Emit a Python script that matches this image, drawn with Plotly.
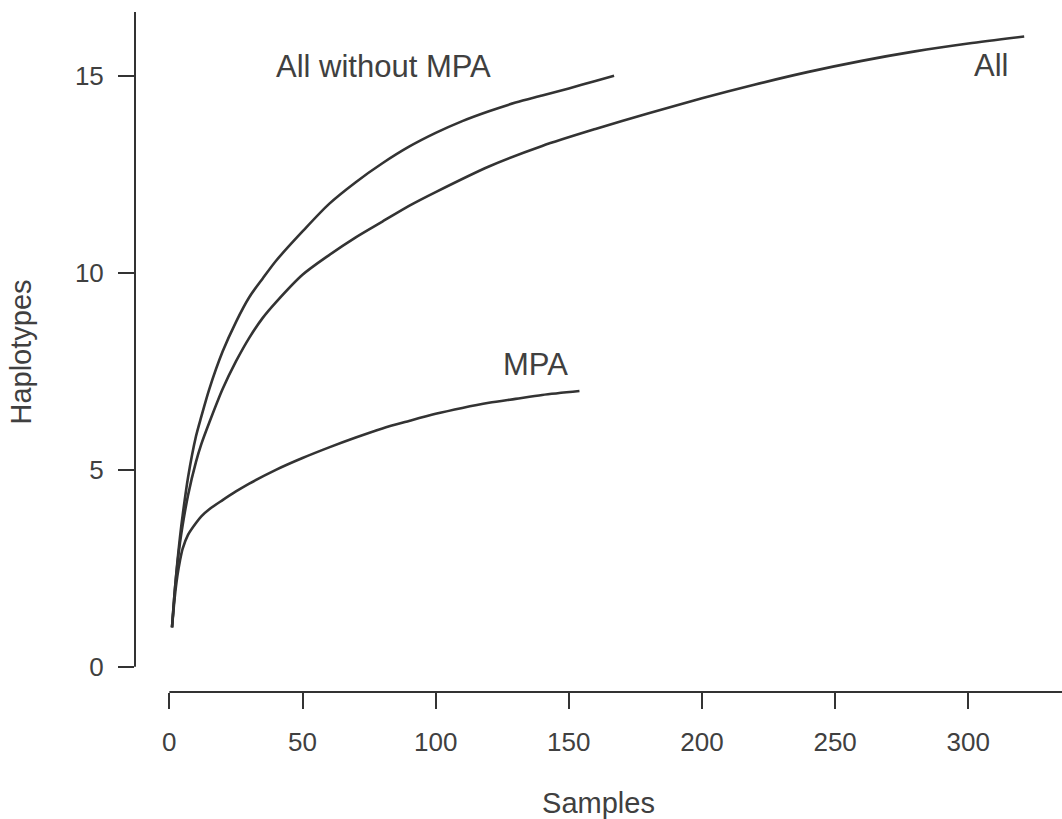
import plotly.graph_objects as go

# Rarefaction curves: samples vs haplotypes
all_x = [1, 2, 3, 4, 5, 7, 10, 12, 15, 20, 25, 30, 35, 40, 50, 60, 70, 80, 90, 100,
         120, 140, 160, 180, 200, 220, 240, 260, 280, 300, 321]
all_y = [1, 1.9, 2.6, 3.15, 3.6, 4.35, 5.2, 5.65, 6.2, 7.05, 7.75, 8.35, 8.85, 9.25,
         9.95, 10.45, 10.9, 11.3, 11.7, 12.05, 12.7, 13.22, 13.65, 14.05, 14.43,
         14.78, 15.1, 15.38, 15.62, 15.82, 16.0]

wo_x = [1, 2, 3, 4, 5, 7, 10, 12, 15, 20, 25, 30, 35, 40, 50, 60, 70, 80, 90, 100,
        110, 120, 130, 140, 150, 160, 167]
wo_y = [1, 1.9, 2.65, 3.3, 3.85, 4.8, 5.85, 6.35, 7.05, 8.0, 8.75, 9.38, 9.85, 10.3,
        11.05, 11.75, 12.3, 12.78, 13.2, 13.55, 13.85, 14.1, 14.32, 14.5, 14.68,
        14.87, 15.0]

mpa_x = [1, 2, 3, 4, 5, 7, 10, 12, 15, 20, 25, 30, 40, 50, 60, 70, 80, 90, 100, 110,
         120, 130, 140, 154]
mpa_y = [1, 1.75, 2.3, 2.7, 3.0, 3.35, 3.65, 3.82, 4.0, 4.23, 4.45, 4.65, 5.0, 5.3,
         5.57, 5.82, 6.05, 6.24, 6.42, 6.57, 6.7, 6.8, 6.9, 7.0]

labels = ["All without MPA", "MPA", "All"]
label_x = [80.6, 137.5, 308.7]
label_y = [15.23, 7.67, 15.25]

x_ticks = [0, 50, 100, 150, 200, 250, 300]
y_ticks = [0, 5, 10, 15]

FONT = "Liberation Sans, Arial, sans-serif"
INK = "#333333"
TXT = "#404040"

fig = go.Figure()
for xs, ys in [(all_x, all_y), (wo_x, wo_y), (mpa_x, mpa_y)]:
    fig.add_trace(go.Scatter(x=xs, y=ys, mode="lines",
                             line=dict(color=INK, width=2.6, shape="spline", smoothing=0.8),
                             showlegend=False, hoverinfo="skip"))

for t, lx, ly in zip(labels, label_x, label_y):
    fig.add_annotation(x=lx, y=ly, text=t, showarrow=False,
                       font=dict(family=FONT, size=31, color=TXT),
                       xanchor="center", yanchor="middle")

# detached R-style axis lines
fig.add_shape(type="line", xref="paper", yref="y", x0=0, x1=0, y0=0, y1=16.62,
              line=dict(color=INK, width=2))
fig.add_shape(type="line", xref="x", yref="paper", x0=0, x1=335.2, y0=0, y1=0,
              line=dict(color=INK, width=2))

fig.update_xaxes(range=[-12.9, 335.2], tickvals=x_ticks, ticks="outside", ticklen=16,
                 tickwidth=2, tickcolor=INK, showgrid=False, zeroline=False, showline=False,
                 automargin=False,
                 tickfont=dict(family=FONT, size=26, color=TXT), ticklabelstandoff=11,
                 title=dict(text="Samples", font=dict(family=FONT, size=29, color=TXT),
                            standoff=36))
fig.update_yaxes(range=[-0.64, 16.62], tickvals=y_ticks, ticks="outside", ticklen=16,
                 tickwidth=2, tickcolor=INK, showgrid=False, zeroline=False, showline=False,
                 automargin=False,
                 tickfont=dict(family=FONT, size=26, color=TXT), ticklabelstandoff=9,
                 title=dict(text="Haplotypes", font=dict(family=FONT, size=29, color=TXT),
                            standoff=34))

fig.update_layout(width=1062, height=819, plot_bgcolor="white", paper_bgcolor="white",
                  margin=dict(l=135, r=0, t=12, b=127, autoexpand=False),
                  font=dict(family=FONT))

fig.write_html("out.html", config={"displayModeBar": False},
               post_script="document.body.style.margin='0';"
                           "document.body.style.overflow='hidden';")
